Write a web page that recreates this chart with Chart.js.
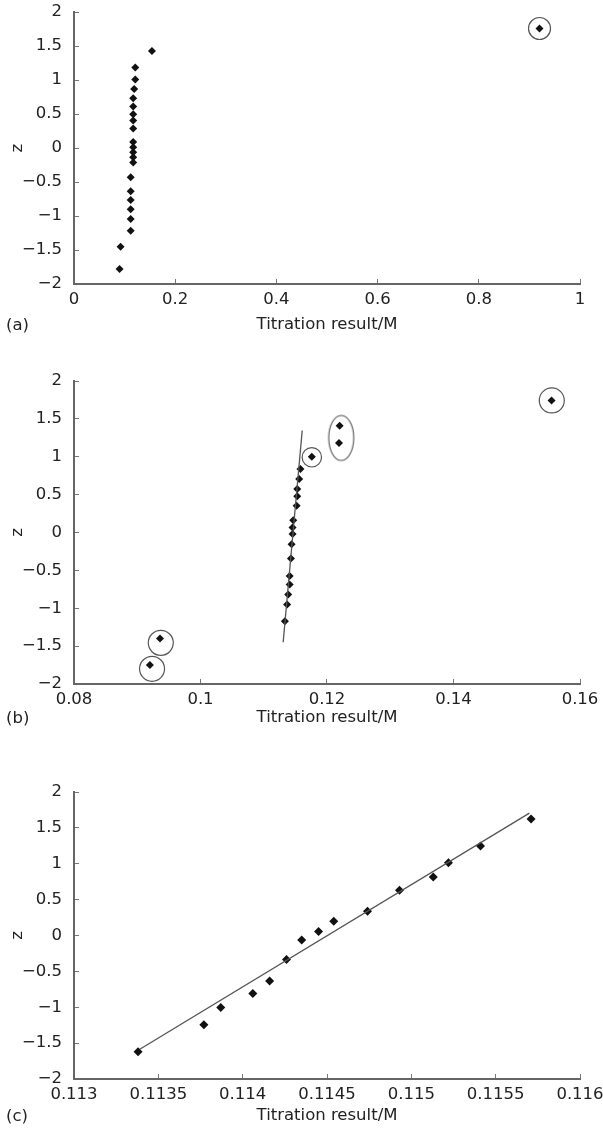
<!DOCTYPE html>
<html>
<head>
<meta charset="utf-8">
<script src="https://cdn.jsdelivr.net/npm/chart.js@4/dist/chart.umd.min.js"></script>
<style>
  body { margin: 0; background: #fff; }
  #page { position: relative; width: 603px; height: 1134px; font-family: "DejaVu Sans", sans-serif; }
  canvas { position: absolute; left: 0; }
  .tag { position: absolute; left: 6px; font-size: 16.5px; line-height: 20px; color: #222; }
</style>
</head>
<body>
<div id="page">
  <canvas id="chartA" style="top:0px"></canvas>
  <canvas id="chartB" style="top:345px"></canvas>
  <canvas id="chartC" style="top:745px"></canvas>
  <div class="tag" style="top:315px">(a)</div>
  <div class="tag" style="top:708px">(b)</div>
  <div class="tag" style="top:1106px">(c)</div>
</div>
<script>
// tick values and labels
const zTicks = [-2, -1.5, -1, -0.5, 0, 0.5, 1, 1.5, 2];
const zTickLabels = ["−2", "−1.5", "−1", "−0.5", "0", "0.5", "1", "1.5", "2"];
const aTicks = [0, 0.2, 0.4, 0.6, 0.8, 1];
const aTickLabels = ["0", "0.2", "0.4", "0.6", "0.8", "1"];
const bTicks = [0.08, 0.1, 0.12, 0.14, 0.16];
const bTickLabels = ["0.08", "0.1", "0.12", "0.14", "0.16"];
const cTicks = [0.113, 0.1135, 0.114, 0.1145, 0.115, 0.1155, 0.116];
const cTickLabels = ["0.113", "0.1135", "0.114", "0.1145", "0.115", "0.1155", "0.116"];

// (a) all titration results
const aResult = [0.154, 0.121, 0.121, 0.119, 0.117, 0.117, 0.117, 0.117, 0.117, 0.117, 0.117,
  0.117, 0.117, 0.117, 0.112, 0.112, 0.112, 0.112, 0.112, 0.112, 0.092, 0.090, 0.92];
const aZ = [1.43, 1.185, 1.009, 0.871, 0.734, 0.611, 0.498, 0.405, 0.287, 0.091, 0.012,
  -0.061, -0.135, -0.213, -0.429, -0.636, -0.763, -0.901, -1.043, -1.215, -1.45, -1.78, 1.76];
const aRingResult = [0.92];
const aRingZ = [1.76];

// (b) zoomed in, outliers circled
const bResult = [0.0936, 0.0920, 0.1158, 0.1156, 0.1153, 0.1153, 0.1152, 0.11466, 0.11456, 0.11456,
  0.1144, 0.1143, 0.1141, 0.1141, 0.11386, 0.1137, 0.11334, 0.1176, 0.1219, 0.1220, 0.1555];
const bZ = [-1.40, -1.75, 0.838, 0.706, 0.573, 0.477, 0.353, 0.163, 0.066, -0.02,
  -0.155, -0.344, -0.575, -0.685, -0.817, -0.95, -1.17, 1.0, 1.18, 1.41, 1.743];
const bFitResult = [0.11307, 0.11608];
const bFitZ = [-1.449, 1.346];
const bRingResult = [0.09372, 0.09234, 0.1176, 0.15554];
const bRingZ = [-1.457, -1.80, 0.993, 1.743];
const bPairResult = [0.12225];
const bPairZ = [1.249];

// (c) outliers removed
const cResult = [0.11338, 0.11377, 0.11387, 0.11406, 0.11416, 0.11426, 0.11435, 0.11445,
  0.11454, 0.11474, 0.11493, 0.11513, 0.11522, 0.11541, 0.11571];
const cZ = [-1.62, -1.243, -1.005, -0.81, -0.633, -0.333, -0.062, 0.057,
  0.2, 0.338, 0.629, 0.814, 1.014, 1.248, 1.624];
const cFitResult = [0.11339, 0.11570];
const cFitZ = [-1.586, 1.705];

const font = { family: "DejaVu Sans", size: 16.5 };
const textColor = "#222";
const ringColor = "#555";

const toPoints = (xs, ys) => xs.map((x, i) => ({ x: x, y: ys[i] }));

// ellipse ring used for the pair of points in (b)
function ellipseImage(rx, ry) {
  const c = document.createElement("canvas");
  c.width = rx * 2 + 4;
  c.height = ry * 2 + 4;
  const g = c.getContext("2d");
  g.strokeStyle = ringColor;
  g.lineWidth = 1.1;
  g.beginPath();
  g.ellipse(c.width / 2, c.height / 2, rx, ry, 0, 0, Math.PI * 2);
  g.stroke();
  return c;
}

function pointSet(xs, ys, r) {
  return {
    data: toPoints(xs, ys),
    pointStyle: "rectRot",
    pointRadius: r,
    backgroundColor: "#111",
    borderWidth: 0,
  };
}

function fitSet(xs, ys) {
  return {
    data: toPoints(xs, ys),
    showLine: true,
    pointRadius: 0,
    borderColor: "#555",
    borderWidth: 1.3,
  };
}

function ringSet(xs, ys, radius) {
  return {
    data: toPoints(xs, ys),
    pointStyle: "circle",
    pointRadius: radius,
    backgroundColor: "rgba(0,0,0,0)",
    borderColor: ringColor,
    borderWidth: 1.2,
    clip: false,
  };
}

function makeChart(id, height, padTop, xHeight, titlePad, xRange, xTicks, xLabels, datasets) {
  const canvas = document.getElementById(id);
  canvas.width = 603;
  canvas.height = height;
  return new Chart(canvas, {
    type: "scatter",
    data: { datasets: datasets },
    options: {
      responsive: false,
      animation: false,
      events: [],
      layout: { padding: { top: padTop, right: 23, left: 0, bottom: 0 } },
      plugins: { legend: { display: false }, tooltip: { enabled: false } },
      scales: {
        x: {
          type: "linear",
          min: xRange[0],
          max: xRange[1],
          afterBuildTicks: (s) => { s.ticks = xTicks.map((v) => ({ value: v })); },
          afterFit: (s) => {
            s.height = xHeight;
            s.paddingLeft = 0;
            s.paddingRight = 0;
          },
          ticks: {
            callback: (v, i) => xLabels[i],
            font: font,
            color: textColor,
            padding: 11,
            maxRotation: 0,
            autoSkip: false,
          },
          grid: { drawOnChartArea: false, drawTicks: true, tickLength: -5, color: "#777", lineWidth: 1 },
          border: { color: "#666", width: 2 },
          title: {
            display: true,
            text: "Titration result/M",
            font: font,
            color: textColor,
            padding: { top: 0, bottom: titlePad },
          },
        },
        y: {
          type: "linear",
          min: -2,
          max: 2,
          afterBuildTicks: (s) => { s.ticks = zTicks.map((v) => ({ value: v })); },
          afterFit: (s) => {
            s.width = 74;
            s.paddingTop = 0;
            s.paddingBottom = 0;
          },
          ticks: {
            callback: (v, i) => zTickLabels[i],
            font: font,
            color: textColor,
            padding: 17,
            autoSkip: false,
          },
          grid: { drawOnChartArea: false, drawTicks: true, tickLength: -5, color: "#777", lineWidth: 1 },
          border: { color: "#666", width: 2 },
          title: {
            display: true,
            text: "z",
            font: font,
            color: textColor,
            padding: { top: 8, bottom: 0 },
          },
        },
      },
    },
  });
}

makeChart("chartA", 345, 12, 61, 10, [0, 1], aTicks, aTickLabels, [
  pointSet(aResult, aZ, 4),
  ringSet(aRingResult, aRingZ, 11),
]);

makeChart("chartB", 400, 36, 61, 17, [0.08, 0.16], bTicks, bTickLabels, [
  fitSet(bFitResult, bFitZ),
  pointSet(bResult, bZ, 4),
  ringSet(bRingResult, bRingZ, [12.5, 12.5, 9.7, 12.5]),
  {
    data: toPoints(bPairResult, bPairZ),
    pointStyle: ellipseImage(12.5, 22.5),
    pointRadius: 12,
    clip: false,
  },
]);

makeChart("chartC", 389, 47, 55, 8, [0.113, 0.116], cTicks, cTickLabels, [
  fitSet(cFitResult, cFitZ),
  pointSet(cResult, cZ, 4.5),
]);
</script>
</body>
</html>
